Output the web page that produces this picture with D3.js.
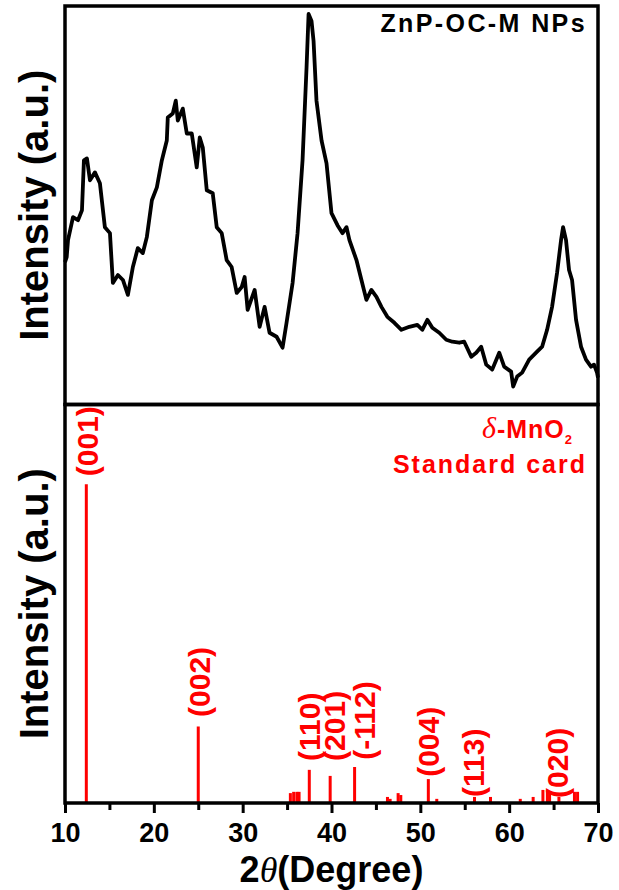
<!DOCTYPE html>
<html lang="en">
<head>
  <meta charset="UTF-8">
  <title>XRD ZnP-OC-M</title>
  <script src="https://d3js.org/d3.v7.min.js"></script>
  <style>
    body { margin: 0; background: #fff; }
    svg text { font-family: "Liberation Sans", Arial, sans-serif; font-weight: bold; }
  </style>
</head>
<body>
  <script>
    // measured pattern, ZnP-OC-M NPs (2theta in degrees, intensity in a.u.)
    const twoTheta = [
      10.0, 10.19, 10.34, 10.9, 11.46, 11.91, 12.13, 12.47, 12.81, 13.37,
      13.93, 14.49, 15.06, 15.39, 15.96, 16.52, 17.08, 17.64, 18.2, 18.76,
      19.21, 19.78, 20.34, 20.9, 21.46, 21.57, 22.13, 22.47, 22.7, 23.26,
      23.71, 24.27, 24.83, 25.17, 25.51, 25.96, 26.63, 27.08, 27.64, 28.2,
      28.76, 29.33, 29.89, 30.22, 30.56, 31.35, 31.91, 32.47, 33.03, 33.82,
      34.49, 34.94, 35.62, 36.18, 36.74, 37.19, 37.42, 37.75, 37.98, 38.31,
      38.88, 39.44, 40.0, 40.67, 41.24, 41.69, 42.02, 42.81, 43.37, 43.93,
      44.49, 45.06, 45.62, 46.29, 47.08, 47.87, 48.76, 49.66, 50.22, 50.79,
      51.35, 52.13, 52.92, 53.6, 54.38, 54.94, 55.73, 56.29, 56.85, 57.42,
      58.09, 58.88, 59.44, 60.22, 60.45, 60.9, 61.46, 62.25, 63.03, 63.71,
      64.27, 64.83, 65.39, 65.84, 66.07, 66.4, 66.74, 67.08, 67.53, 68.09,
      68.65, 69.21, 69.55, 69.89, 70.0
    ];
    const intensity = [
      143, 148, 165, 188, 185, 195, 245, 247, 225, 233,
      222, 178, 172, 122, 130, 125, 110, 138, 157, 152,
      168, 205, 218, 245, 265, 288, 292, 305, 285, 297,
      272, 272, 238, 268, 258, 215, 212, 178, 172, 145,
      138, 112, 118, 128, 95, 115, 78, 98, 72, 68,
      57, 82, 122, 172, 245, 338, 392, 385, 365, 305,
      265, 242, 192, 180, 172, 178, 165, 145, 125, 105,
      115, 108, 98, 88, 82, 75, 78, 80, 75, 85,
      77, 72, 65, 63, 62, 63, 48, 52, 58, 40,
      35, 52, 38, 33, 18, 28, 32, 45, 52, 58,
      75, 98, 132, 165, 178, 165, 135, 125, 85, 58,
      45, 38, 40, 32, 27
    ];

    // delta-MnO2 standard card: line positions and relative intensities
    const cardTheta = [
      12.4, 25.0, 35.37, 35.74, 36.1, 36.35, 37.5, 39.85, 42.6, 46.3,
      46.6, 47.5, 47.8, 50.9, 51.85, 56.1, 57.9, 61.25, 62.7, 63.8,
      64.3, 64.55, 65.6, 67.35, 67.7
    ];
    const cardIntensity = [
      100, 24, 3.1, 3.5, 3.5, 3.5, 10.4, 8.5, 11.3, 1.9,
      1.3, 3.1, 2.5, 7.5, 1.3, 1.9, 1.9, 1.3, 1.9, 4.1,
      4.1, 3.1, 1.9, 3.5, 3.5
    ];

    // miller index annotations (where each label sits, in data units)
    const hklLabels = ["(001)", "(002)", "(110)", "(201)", "(-112)", "(004)", "(113)", "(020)"];
    const hklTheta = [12.55, 25.1, 37.5, 40.35, 43.7, 50.9, 55.9, 65.4];
    const hklLevel = [102.5, 27, 13.2, 13.2, 13.6, 8.2, 1.9, 1.6];

    const xTicks = [10, 20, 30, 40, 50, 60, 70];
    const xMinorTicks = [15, 25, 35, 45, 55, 65];

    const W = 619, H = 890;
    const left = 65, right = 598;
    const topY = 6, midY = 404.5, bottomY = 803;
    const red = "#ff0000";

    const svg = d3.select("body").append("svg")
      .attr("width", W)
      .attr("height", H);

    const x = d3.scaleLinear().domain([10, 70]).range([left, right]);
    const yTop = d3.scaleLinear().domain([0, 400]).range([midY, topY]);
    const yBot = d3.scaleLinear().domain([0, 125]).range([bottomY, midY]);

    // top panel curve
    const line = d3.line()
      .x((d, i) => x(twoTheta[i]))
      .y(d => yTop(d));

    svg.append("path")
      .datum(intensity)
      .attr("d", line)
      .attr("fill", "none")
      .attr("stroke", "#000")
      .attr("stroke-width", 3.8)
      .attr("stroke-linejoin", "round");

    // bottom panel sticks
    svg.append("g")
      .selectAll("line")
      .data(cardIntensity)
      .enter()
      .append("line")
      .attr("x1", (d, i) => x(cardTheta[i]))
      .attr("x2", (d, i) => x(cardTheta[i]))
      .attr("y1", yBot(0))
      .attr("y2", d => yBot(d))
      .attr("stroke", red)
      .attr("stroke-width", 3);

    svg.append("g")
      .selectAll("text")
      .data(hklLabels)
      .enter()
      .append("text")
      .attr("transform", (d, i) => `translate(${x(hklTheta[i])},${yBot(hklLevel[i])}) rotate(-90)`)
      .attr("dy", "0.36em")
      .attr("fill", red)
      .style("font-size", "30px")
      .text(d => d);

    // frames
    [[topY, midY], [midY, bottomY]].forEach(([y0, y1]) => {
      svg.append("rect")
        .attr("x", left)
        .attr("y", y0)
        .attr("width", right - left)
        .attr("height", y1 - y0)
        .attr("fill", "none")
        .attr("stroke", "#000")
        .attr("stroke-width", 3.5);
    });

    // x axis
    const xAxis = svg.append("g")
      .attr("transform", `translate(0,${bottomY})`)
      .call(d3.axisBottom(x).tickValues(xTicks).tickSize(10).tickPadding(10).tickFormat(d3.format("d")));
    xAxis.select(".domain").remove();
    xAxis.selectAll("line").attr("stroke", "#000").attr("stroke-width", 3);
    xAxis.selectAll("text")
      .attr("fill", "#000")
      .style("font-size", "27px");

    const xMinor = svg.append("g")
      .attr("transform", `translate(0,${bottomY})`)
      .call(d3.axisBottom(x).tickValues(xMinorTicks).tickSize(7).tickFormat(""));
    xMinor.select(".domain").remove();
    xMinor.selectAll("line").attr("stroke", "#000").attr("stroke-width", 3);

    // axis titles
    const xTitle = svg.append("text")
      .attr("x", (left + right) / 2)
      .attr("y", 882)
      .attr("text-anchor", "middle")
      .style("font-size", "36px");
    xTitle.append("tspan").text("2");
    xTitle.append("tspan")
      .style("font-family", "'Liberation Serif', 'Times New Roman', serif")
      .style("font-style", "italic")
      .style("font-weight", "normal")
      .text("θ");
    xTitle.append("tspan").text("(Degree)");

    [(topY + midY) / 2, (midY + bottomY) / 2].forEach(cy => {
      svg.append("text")
        .attr("transform", `translate(48,${cy}) rotate(-90)`)
        .attr("text-anchor", "middle")
        .style("font-size", "40px")
        .text("Intensity (a.u.)");
    });

    // legends
    svg.append("text")
      .attr("x", 587)
      .attr("y", 32)
      .attr("text-anchor", "end")
      .style("font-size", "25px")
      .style("letter-spacing", "2.4px")
      .text("ZnP-OC-M NPs");

    const mno = svg.append("text")
      .attr("x", 573)
      .attr("y", 438)
      .attr("text-anchor", "end")
      .attr("fill", red)
      .style("font-size", "25px")
      .style("letter-spacing", "1px");
    mno.append("tspan")
      .style("font-family", "'Liberation Serif', 'Times New Roman', serif")
      .style("font-style", "italic")
      .style("font-weight", "normal")
      .style("font-size", "30px")
      .text("δ");
    mno.append("tspan").text("-MnO");
    mno.append("tspan")
      .attr("dy", 6)
      .style("font-size", "13px")
      .text("2");

    svg.append("text")
      .attr("x", 587)
      .attr("y", 473)
      .attr("text-anchor", "end")
      .attr("fill", red)
      .style("font-size", "25px")
      .style("letter-spacing", "2px")
      .text("Standard card");
  </script>
</body>
</html>
